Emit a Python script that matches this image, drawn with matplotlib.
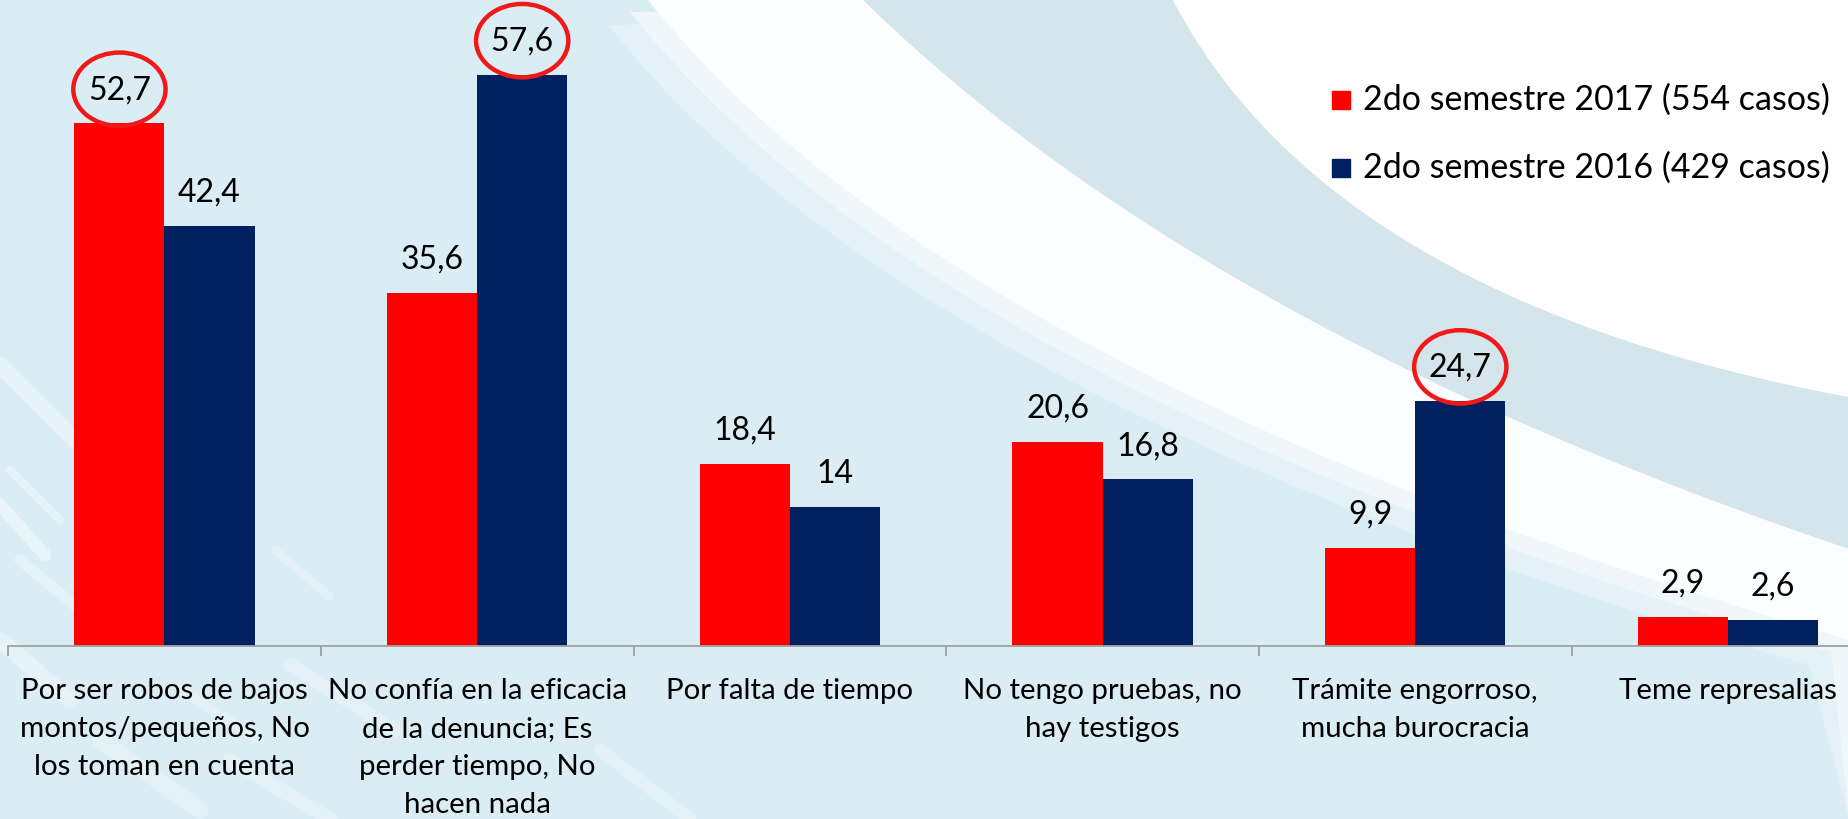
import numpy as np
import matplotlib

matplotlib.use("Agg")
import matplotlib.pyplot as plt
from matplotlib.patches import Ellipse, Polygon, Rectangle

plt.rcParams["font.family"] = ["Lato", "DejaVu Sans"]

categories = [
    "Por ser robos de bajos\nmontos/pequeños, No\nlos toman en cuenta",
    "No confía en la eficacia\nde la denuncia; Es\nperder tiempo, No\nhacen nada",
    "Por falta de tiempo",
    "No tengo pruebas, no\nhay testigos",
    "Trámite engorroso,\nmucha burocracia",
    "Teme represalias",
]
vals_2017 = [52.7, 35.6, 18.4, 20.6, 9.9, 2.9]
vals_2016 = [42.4, 57.6, 14.0, 16.8, 24.7, 2.6]
series_labels = ["2do semestre 2017 (554 casos)", "2do semestre 2016 (429 casos)"]
# values circled in red: (category index, series index)
circled = [(0, 0), (1, 1), (4, 1)]

RED = "#ff0000"
NAVY = "#002060"
W, H = 1849, 819


def bezier(p0, p1, p2, n=80):
    t = np.linspace(0, 1, n)[:, None]
    return (1 - t) ** 2 * np.array(p0) + 2 * (1 - t) * t * np.array(p1) + t ** 2 * np.array(p2)


fig = plt.figure(figsize=(W / 100, H / 100), dpi=100)

# background swooshes, drawn in pixel coordinates
bg = fig.add_axes([0, 0, 1, 1], zorder=0)
bg.set_xlim(0, W)
bg.set_ylim(H, 0)
bg.axis("off")
bg.add_patch(Rectangle((0, 0), W, H, color="#daedf4"))

white_low = bezier((648, 0), (950, 380), (W, 640))
gray_low = bezier((863, 0), (1200, 330), (W, 549))
gray_top = bezier((1173, 0), (1330, 300), (W, 397))

# soft fringe + white band
for dx, dy, col in [(-40, 25, "#e4f2f7"), (-18, 12, "#eff7fa"), (0, 0, "#fbfdfe")]:
    band = np.vstack([white_low + [dx, dy], [[W, H], [W, 0]]])
    bg.add_patch(Polygon(band, closed=True, color=col, lw=0))
# grey-blue band
bg.add_patch(Polygon(np.vstack([gray_low, gray_top[::-1]]), closed=True,
                     color="#d4e6eb", lw=0))
# white upper-right corner
bg.add_patch(Polygon(np.vstack([gray_top, [[W, 0]]]), closed=True,
                     color="#ffffff", lw=0))

# faint streaks on the left
streaks = [(0, 365, 75, 440, 12, 0.3), (0, 505, 45, 555, 9, 0.4),
           (10, 470, 60, 520, 6, 0.3), (20, 560, 80, 610, 8, 0.3),
           (275, 550, 330, 597, 6, 0.25), (290, 665, 395, 730, 10, 0.25),
           (0, 640, 70, 700, 12, 0.3), (100, 740, 200, 810, 12, 0.25),
           (230, 760, 330, 819, 10, 0.25), (600, 750, 690, 819, 9, 0.25),
           (180, 690, 260, 740, 7, 0.25)]
for (x0, y0, x1, y1, lw, a) in streaks:
    bg.plot([x0, x1], [y0, y1], color="white", lw=lw, alpha=a, solid_capstyle="round")

# main chart
spacing = 312.7
left_px = 8.1
ax = fig.add_axes([left_px / W, (H - 646) / H, 1 - left_px / W, 646 / H], zorder=1)
ax.patch.set_alpha(0)

x = np.arange(len(categories))
bw = 0.288
ax.bar(x - bw / 2, vals_2017, bw, color=RED, zorder=2)
ax.bar(x + bw / 2, vals_2016, bw, color=NAVY, zorder=2)

for s in ["top", "right", "left"]:
    ax.spines[s].set_visible(False)
ax.spines["bottom"].set_color("#a0a0a0")
ax.spines["bottom"].set_linewidth(1.3)
ax.set_yticks([])
ax.set_xticks(np.arange(-0.5, len(categories), 1))
ax.set_xticklabels([])
ax.tick_params(axis="x", length=7, width=1.3, color="#a0a0a0", direction="out")
ax.set_xlim(-0.5, (W - left_px) / spacing - 0.5)
ax.set_ylim(0, 65.15)


def fmt(v):
    return f"{v:g}".replace(".", ",")


for i in range(len(categories)):
    for j, vals in enumerate([vals_2017, vals_2016]):
        xc = x[i] + (j - 0.5) * bw
        ax.text(xc, vals[i] + 3.35, fmt(vals[i]), ha="center", va="center",
                fontsize=23, color="black", clip_on=False)
    ax.text(x[i], -3.2, categories[i], ha="center", va="top", fontsize=21.2,
            linespacing=1.57, color="black", clip_on=False)

for i, j in circled:
    vals = vals_2017 if j == 0 else vals_2016
    xc = x[i] + (j - 0.5) * bw
    ax.add_patch(Ellipse((xc, vals[i] + 3.45), 0.295, 7.4, fill=False,
                         edgecolor="#f01818", lw=3.2, zorder=3, clip_on=False))

# legend
for k, (lab, col) in enumerate(zip(series_labels, [RED, NAVY])):
    yc = 100 + k * 68
    bg.add_patch(Rectangle((1332, yc - 9), 18, 18, color=col, zorder=5))
    bg.text(1363, yc, lab, va="center", ha="left", fontsize=24.5, color="black", zorder=5)

fig.savefig("out.png", dpi=100)
